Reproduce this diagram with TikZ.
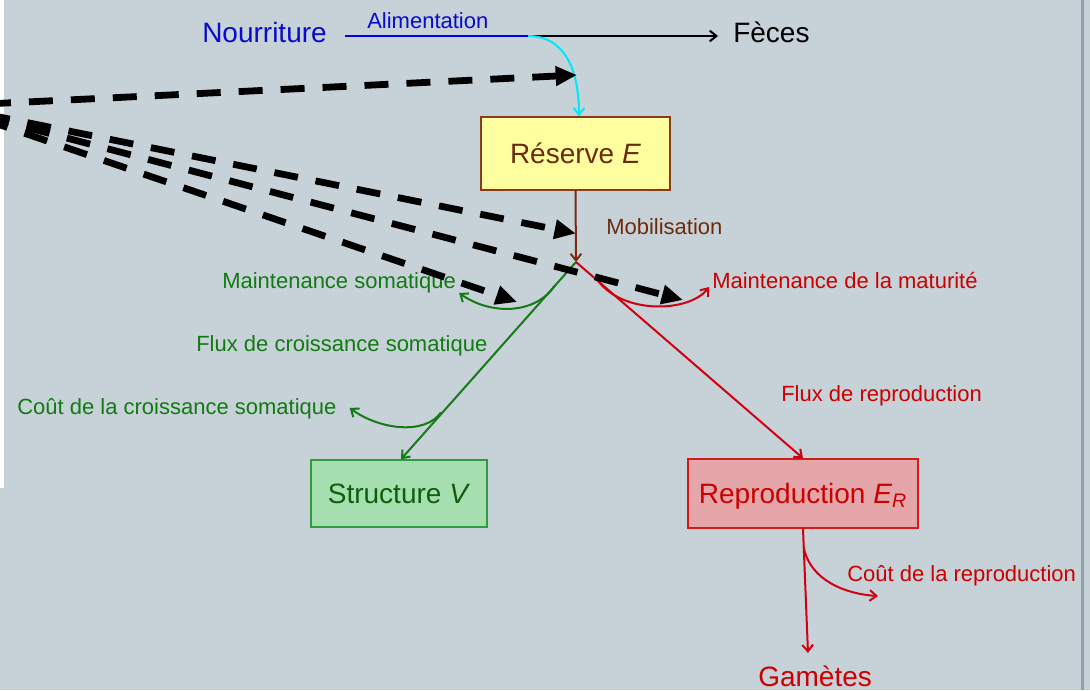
\documentclass[tikz,border=0pt]{standalone}
\usepackage{fontspec}
\setmainfont{Liberation Sans}
\usetikzlibrary{arrows.meta,calc}

\definecolor{bg}{HTML}{C6D1D8}
\definecolor{edgeline}{HTML}{8CA2A8}
\definecolor{nblue}{HTML}{0A0ACC}
\definecolor{lineblue}{HTML}{0000F0}
\definecolor{aqua}{HTML}{00E8F8}
\definecolor{brtext}{HTML}{6E2A0C}
\definecolor{brline}{HTML}{7A2A10}
\definecolor{resfill}{HTML}{FFFFA0}
\definecolor{resline}{HTML}{8B3A1E}
\definecolor{gtext}{HTML}{127A12}
\definecolor{gline}{HTML}{167A16}
\definecolor{strtext}{HTML}{0E5E0E}
\definecolor{strfill}{HTML}{A6DFAF}
\definecolor{strline}{HTML}{2E9B3E}
\definecolor{rtext}{HTML}{CC0000}
\definecolor{rline}{HTML}{D00010}
\definecolor{repfill}{HTML}{E4A6A9}
\definecolor{repline}{HTML}{D21A1A}

\tikzset{
  big/.style={font=\fontsize{21}{25}\selectfont, inner sep=0pt},
  small/.style={font=\fontsize{16.5}{20}\selectfont, inner sep=0pt},
  box/.style={draw, line width=1.1pt, inner sep=0pt, text height=15pt,
              text depth=0pt, font=\fontsize{21}{25}\selectfont},
  flow/.style={line width=1.5pt, -{Straight Barb[length=5pt,width=8pt]}},
  feed/.style={line width=5.1pt, dash pattern=on 18pt off 13.5pt,
               -{Triangle[length=16pt,width=14pt]}},
}

\begin{document}
\begin{tikzpicture}[x=0.75pt,y=-0.75pt]
\useasboundingbox (0,0) rectangle (1090,690);
% backdrop
\fill[bg] (0,0) rectangle (1090,690);
\fill[white] (0,0) rectangle (4,488);
\fill[edgeline] (1081,0) rectangle (1083.5,690);

% compartments
\node[box, fill=resfill, draw=resline, text=brtext,
      minimum width=141.75pt, minimum height=54.75pt] (res) at (575.5,153.5) {Réserve \textit{E}};
\node[box, fill=strfill, draw=strline, text=strtext,
      minimum width=132pt, minimum height=50.25pt] (struct) at (399,493.5) {Structure \textit{V}};
\node[box, fill=repfill, draw=repline, text=rtext,
      minimum width=172.5pt, minimum height=51.75pt] (repro) at (803,493.5) {Reproduction \textit{E}\textsubscript{\textit{R}}};

% labels
\node[big, text=nblue, anchor=base west] (nour) at (202,42) {Nourriture};
\node[small, text=nblue, anchor=base west] (alim) at (367,28) {Alimentation};
\node[big, text=black, anchor=base west] (feces) at (733,42) {Fèces};
\node[small, text=brtext, anchor=base west] (mob) at (606,234) {Mobilisation};
\node[small, text=gtext, anchor=base west] (msom) at (222,288) {Maintenance somatique};
\node[small, text=gtext, anchor=base west] (fcs) at (196,351) {Flux de croissance somatique};
\node[small, text=gtext, anchor=base west] (gcost) at (17,414) {Coût de la croissance somatique};
\node[small, text=rtext, anchor=base west] (mat) at (712,288) {Maintenance de la maturité};
\node[small, text=rtext, anchor=base west] (frep) at (781,401) {Flux de reproduction};
\node[small, text=rtext, anchor=base west] (rcost) at (847,581) {Coût de la reproduction};
\node[big, text=rtext, anchor=base west] (gam) at (758,686) {Gamètes};

% junctions
\coordinate (split) at (528,36);
\coordinate (hub) at (576,262);
\coordinate (gtip) at ($(gam.base west)+(50,-33)$);

% feeding
\draw[line width=1.5pt, lineblue] ($(nour.east |- split)+(18,0)$) -- (split);
\draw[flow, black] (split) -- ($(feces.west |- split)+(-15,0)$);
\draw[flow, aqua] (split) .. controls (565,36) and (579,70) .. ($(res.north)+(3.5,0)$);

% mobilisation
\draw[flow, brline] (res.south) -- (hub);

% somatic branch
\draw[flow, gline] (hub) -- ($(struct.north)+(2,0)$);
\draw[flow, gline] ($(hub)!0.12!(struct.north)$) .. controls (535,315) and (490,315) .. ($(msom.base east)+(3,5)$);
\draw[flow, gline] ($(hub)!0.763!(struct.north)$) .. controls (425,435) and (380,430) .. ($(gcost.base east)+(13,-6)$);

% reproduction branch
\draw[flow, rline] (hub) -- (repro.north);
\draw[flow, rline] ($(hub)!0.1!(repro.north)$) .. controls (625,315) and (690,312) .. ($(mat.base west)+(-3,-1)$);
\draw[flow, rline] (repro.south) -- (gtip);
\draw[flow, rline] ($(repro.south)!0.15!(gtip)$) .. controls (810,580) and (845,594) .. ($(rcost.base west)+(31,15)$);

% dashed influences
\coordinate (src) at (-55,106);
\coordinate (d1) at (577,75);
\coordinate (d2) at ($(res.south)!0.6!(hub)$);
\coordinate (d3) at (517,302);
\coordinate (d4) at (683,300);
\begin{scope}
  \clip (0,0) rectangle (1090,690);
  \draw[feed] (src) -- (d1);
  \draw[feed] (src) -- (d2);
  \draw[feed] (src) -- (d3);
  \draw[feed] (src) -- (d4);
\end{scope}
\end{tikzpicture}
\end{document}
